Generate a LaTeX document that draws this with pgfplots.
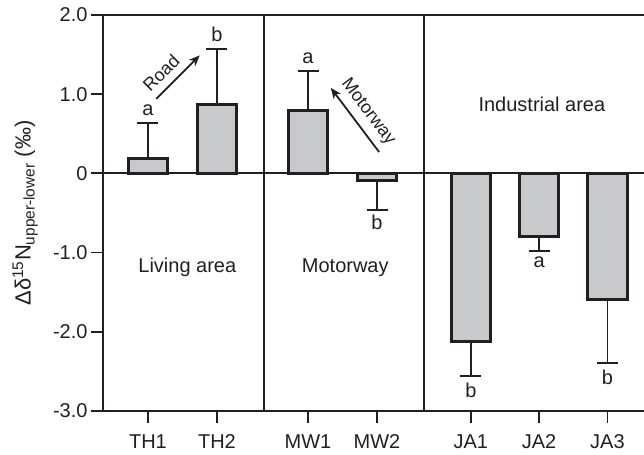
\documentclass[border=0pt]{standalone}
\usepackage{fontspec}
\setmainfont{Liberation Sans}
\usepackage{pgfplots}
\pgfplotsset{compat=1.18}
\usetikzlibrary{arrows.meta}
\definecolor{barfill}{RGB}{200,201,203}
\definecolor{ink}{RGB}{35,31,32}

\begin{document}
\begin{tikzpicture}[font=\fontsize{20}{24}\selectfont]
\begin{axis}[
 name=ax,
 scale only axis, width=541pt, height=396pt,
 xmin=-0.652, xmax=7.19, ymin=-3, ymax=2,
 axis x line*=box, axis y line*=left,
 axis line style={line width=1.8pt, ink},
 tick pos=left, tick align=outside, major tick length=12pt,
 tick style={line width=1.8pt, ink},
 xtick={0,1,2.32,3.32,4.68,5.67,6.66},
 xticklabels={TH1,TH2,MW1,MW2,JA1,JA2,JA3},
 ytick={-3,-2,-1,0,1,2},
 yticklabels={-3.0,-2.0,-1.0,0,1.0,2.0},
 tick label style={font=\fontsize{20}{24}\selectfont, text=ink},
 xticklabel style={yshift=-8pt},
 every axis y label/.style={at={(axis description cs:-0.144,0.5)}, anchor=center, rotate=90, font=\fontsize{22}{26}\selectfont, text=ink},
 ylabel={Δδ\textsuperscript{15}N\textsubscript{upper-lower} (‰)},
 clip=false,
]
% positive bars
\addplot[ybar, bar shift=0pt, bar width=0.57, fill=barfill, draw=ink, line width=3pt,
 error bars/.cd, y dir=plus, y explicit,
 error bar style={line width=1.8pt, ink},
 error mark options={rotate=90, line width=1.8pt, mark size=10.5pt, ink}]
 coordinates {(0,0.19) +- (0,0.45) (1,0.87) +- (0,0.70) (2.32,0.79) +- (0,0.50)};
% negative bars
\addplot[ybar, bar shift=0pt, bar width=0.57, fill=barfill, draw=ink, line width=3pt,
 error bars/.cd, y dir=minus, y explicit,
 error bar style={line width=1.8pt, ink},
 error mark options={rotate=90, line width=1.8pt, mark size=10.5pt, ink}]
 coordinates {(3.32,-0.09) +- (0,0.37) (4.68,-2.12) +- (0,0.44) (5.67,-0.80) +- (0,0.18) (6.66,-1.59) +- (0,0.80)};

% zero line and separators
\draw[line width=1.8pt, ink] (axis cs:-0.652,0) -- (axis cs:7.19,0);
\draw[line width=1.8pt, ink] (axis cs:1.68,-3) -- (axis cs:1.68,2);
\draw[line width=1.8pt, ink] (axis cs:4.0,-3) -- (axis cs:4.0,2);

% significance letters
\node[anchor=south, inner sep=0pt, yshift=7pt, text=ink] at (axis cs:0,0.64) {a};
\node[anchor=south, inner sep=0pt, yshift=7pt, text=ink] at (axis cs:1,1.57) {b};
\node[anchor=south, inner sep=0pt, yshift=7pt, text=ink] at (axis cs:2.32,1.29) {a};
\node[anchor=north, inner sep=0pt, yshift=-5pt, text=ink] at (axis cs:3.32,-0.46) {b};
\node[anchor=north, inner sep=0pt, yshift=-7pt, text=ink] at (axis cs:4.68,-2.56) {b};
\node[anchor=north, inner sep=0pt, yshift=-6pt, text=ink] at (axis cs:5.67,-0.98) {a};
\node[anchor=north, inner sep=0pt, yshift=-7pt, text=ink] at (axis cs:6.66,-2.39) {b};

% arrows
\draw[line width=1.8pt, ink, -{Stealth[length=11pt,width=9pt]}] (axis cs:0.12,0.94) -- (axis cs:0.75,1.49);
\node[rotate=45, text=ink, font=\fontsize{18}{22}\selectfont] at (axis cs:0.19,1.27) {Road};
\draw[line width=1.8pt, ink, -{Stealth[length=11pt,width=9pt]}] (axis cs:3.35,0.27) -- (axis cs:2.65,1.08);
\node[rotate=-53, text=ink, font=\fontsize{18}{22}\selectfont] at (axis cs:3.19,0.77) {Motorway};

% region labels
\node[text=ink] at (axis cs:0.57,-1.19) {Living area};
\node[text=ink] at (axis cs:2.86,-1.19) {Motorway};
\node[text=ink] at (axis cs:5.71,0.87) {Industrial area};
\end{axis}
\pgfresetboundingbox
\useasboundingbox ([shift={(-103pt,-44pt)}]ax.south west) rectangle ([yshift=15pt]ax.north east);
\end{tikzpicture}
\end{document}
